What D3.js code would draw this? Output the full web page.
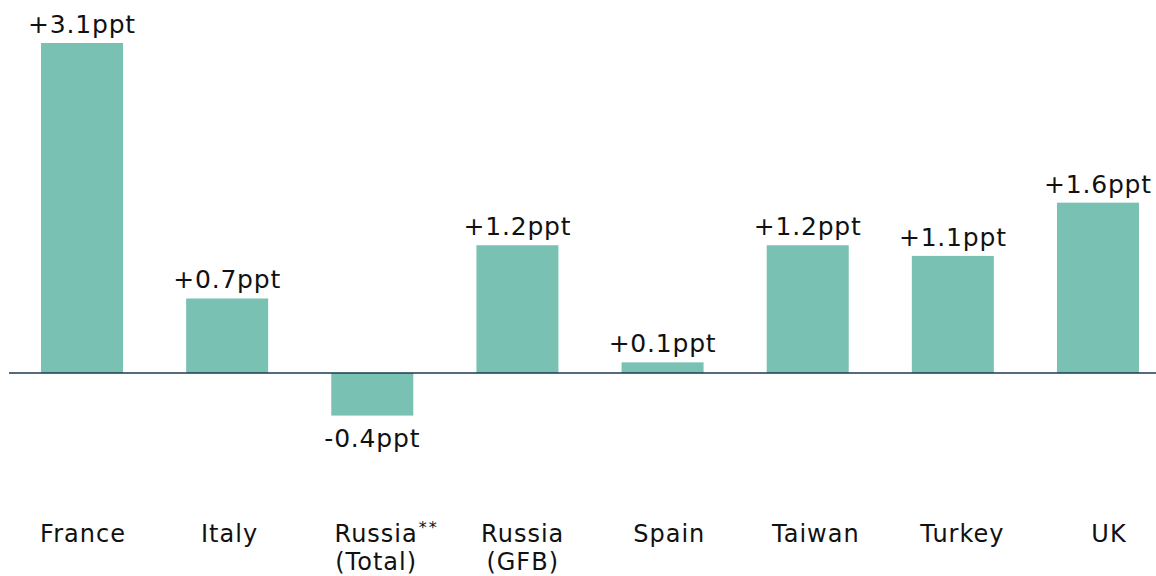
<!DOCTYPE html>
<html>
<head>
<meta charset="utf-8">
<script src="https://cdn.jsdelivr.net/npm/d3@7"></script>
<style>
  html, body { margin: 0; padding: 0; background: #fff; }
  svg { display: block; }
  text { font-family: "DejaVu Sans", Verdana, sans-serif; fill: #111; }
</style>
</head>
<body>
<svg id="chart" width="1156" height="576"></svg>
<script>
const categories = ["France", "Italy", "Russia (Total)", "Russia (GFB)", "Spain", "Taiwan", "Turkey", "UK"];
const labelLines = [["France"], ["Italy"], ["Russia", "(Total)"], ["Russia", "(GFB)"], ["Spain"], ["Taiwan"], ["Turkey"], ["UK"]];
const labelNotes = ["", "", "**", "", "", "", "", ""];
const values = [3.1, 0.7, -0.4, 1.2, 0.1, 1.2, 1.1, 1.6];
const valueLabels = ["+3.1ppt", "+0.7ppt", "-0.4ppt", "+1.2ppt", "+0.1ppt", "+1.2ppt", "+1.1ppt", "+1.6ppt"];

const svg = d3.select("#chart");
const barColor = "#79c1b2";

const x = d3.scaleBand().domain(categories).range([12, 1168]).paddingInner(0.435).paddingOuter(0.2);
const xLabel = d3.scalePoint().domain(categories).range([83, 1109]);
const y = d3.scaleLinear().domain([0, 3.1]).range([373, 43]);

svg.append("g").selectAll("rect")
  .data(values)
  .join("rect")
  .attr("x", (d, i) => x(categories[i]))
  .attr("width", x.bandwidth())
  .attr("y", d => y(Math.max(0, d)))
  .attr("height", d => Math.abs(y(d) - y(0)))
  .attr("fill", barColor);

svg.append("line")
  .attr("x1", 9).attr("x2", 1156)
  .attr("y1", y(0)).attr("y2", y(0))
  .attr("stroke", "#1e3a4c")
  .attr("stroke-width", 1.5);

svg.append("g").selectAll("text")
  .data(values)
  .join("text")
  .attr("x", (d, i) => x(categories[i]) + x.bandwidth() / 2)
  .attr("y", d => d >= 0 ? y(d) - 10 : y(d) + 31)
  .attr("text-anchor", "middle")
  .attr("font-size", 25)
  .attr("letter-spacing", 0.8)
  .text((d, i) => valueLabels[i]);

const lab = svg.append("g").selectAll("text")
  .data(categories)
  .join("text")
  .attr("x", d => xLabel(d))
  .attr("y", 542)
  .attr("text-anchor", "middle")
  .attr("font-size", 24)
  .attr("letter-spacing", 1);

lab.each(function(d, i) {
  const t = d3.select(this);
  labelLines[i].forEach((line, j) => {
    t.append("tspan")
      .attr("x", xLabel(d))
      .attr("dy", j === 0 ? 0 : 28)
      .text(line);
  });
});

// superscript notes after the first line
svg.append("g").selectAll("text")
  .data(categories.filter((d, i) => labelNotes[i]))
  .join("text")
  .each(function(d) {
    const i = categories.indexOf(d);
    const node = lab.nodes()[i].firstChild;
    const bb = node.getBBox();
    d3.select(this)
      .attr("x", bb.x + bb.width + 1)
      .attr("y", 533)
      .attr("font-size", 16)
      .attr("letter-spacing", 2)
      .text(labelNotes[i]);
  });
</script>
</body>
</html>
